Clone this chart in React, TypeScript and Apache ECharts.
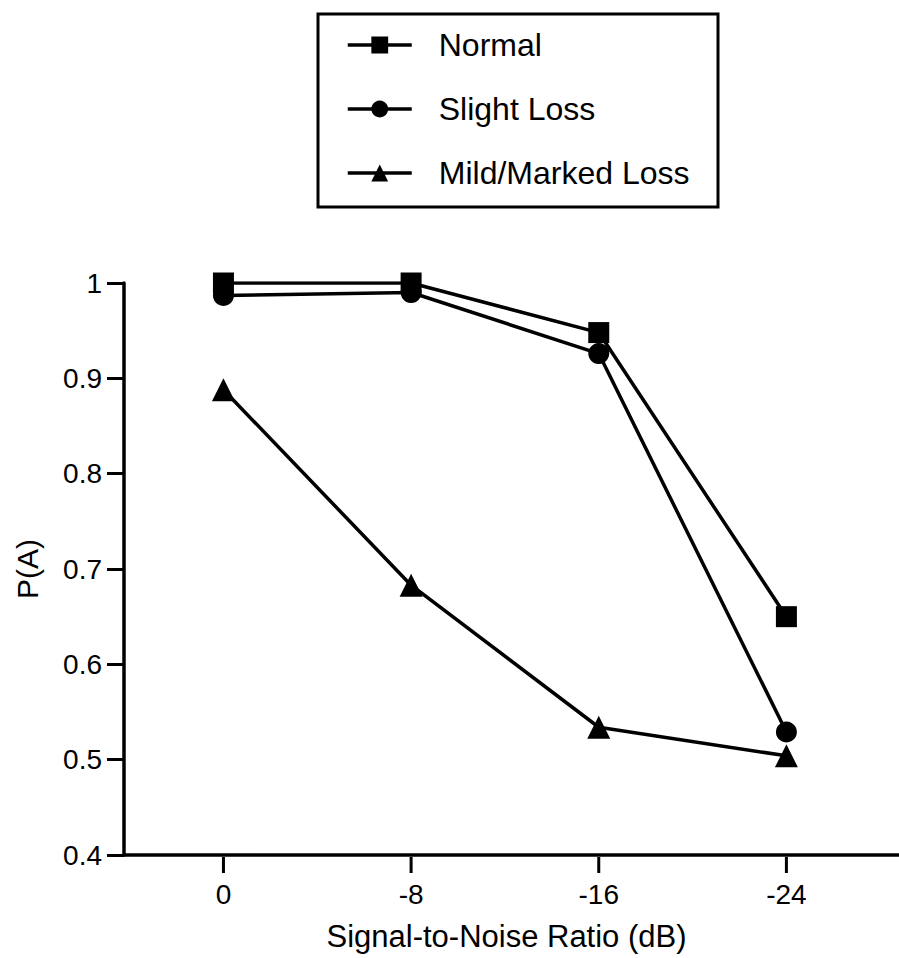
import React, { useEffect, useRef } from "react";
import * as echarts from "echarts";

const categories = ["0", "-8", "-16", "-24"];
const normal = [1.0, 1.0, 0.948, 0.65];
const slightLoss = [0.987, 0.99, 0.926, 0.529];
const mildMarkedLoss = [0.888, 0.683, 0.534, 0.504];
const yTicks = { min: 0.4, max: 1.0, interval: 0.1 };

const FONT = "'Liberation Sans', Arial, Helvetica, sans-serif";

export default function App() {
  const ref = useRef<HTMLDivElement>(null);
  useEffect(() => {
    if (!ref.current) return;
    const chart = echarts.init(ref.current, null, { renderer: "svg" });
    const mk = (name: string, data: number[], symbol: string, size: number) => ({
      name,
      type: "line",
      data: data.map((v, i) => [i, v]),
      symbol,
      symbolSize: size,
      lineStyle: { color: "#000", width: 3.5 },
      itemStyle: { color: "#000" },
      emphasis: { disabled: true },
    });
    chart.setOption({
      animation: false,
      backgroundColor: "#fff",
      textStyle: { fontFamily: FONT, color: "#000" },
      grid: { left: 124, top: 283, right: 0, bottom: 103, containLabel: false, outerBoundsMode: "none" },
      legend: {
        orient: "vertical",
        left: 341,
        top: 24,
        itemWidth: 64,
        itemHeight: 21,
        itemGap: 32,
        lineStyle: { width: 3.5, color: "#000" },
        itemStyle: { color: "#000" },
        textStyle: { fontFamily: FONT, fontSize: 32, lineHeight: 32, color: "#000", padding: [0, 0, 0, 22] },
        data: ["Normal", "Slight Loss", "Mild/Marked Loss"],
      },
      xAxis: {
        type: "value",
        min: -0.53,
        max: 3.6,
        name: "Signal-to-Noise Ratio (dB)",
        nameLocation: "middle",
        nameGap: 66,
        nameTextStyle: { fontFamily: FONT, fontSize: 31, color: "#000", padding: [0, 0, 0, -10] },
        axisLine: { onZero: false, lineStyle: { color: "#000", width: 3.5 } },
        axisTick: { show: false },
        axisLabel: { show: false },
        splitLine: { show: false },
      },
      yAxis: {
        type: "value",
        min: yTicks.min,
        max: yTicks.max,
        interval: yTicks.interval,
        name: "P(A)",
        nameLocation: "middle",
        nameGap: 82,
        nameTextStyle: { fontFamily: FONT, fontSize: 30, color: "#000" },
        axisLine: { show: true, onZero: false, lineStyle: { color: "#000", width: 3.5 } },
        axisTick: { show: true, length: 17, lineStyle: { color: "#000", width: 3 } },
        axisLabel: {
          fontFamily: FONT,
          fontSize: 28,
          color: "#000",
          margin: 22,
          formatter: (v: number) => String(Math.round(v * 10) / 10),
        },
        splitLine: { show: false },
      },
      series: [
        mk("Normal", normal, "rect", 21),
        mk("Slight Loss", slightLoss, "circle", 21),
        mk("Mild/Marked Loss", mildMarkedLoss, "triangle", 23),
      ],
    });
    const extra = categories
      .map((c, i) => {
        const p = chart.convertToPixel({ gridIndex: 0 }, [i, yTicks.min]) as number[];
        return [
          {
            type: "line",
            shape: { x1: p[0], y1: p[1] + 2, x2: p[0], y2: p[1] + 18 },
            style: { stroke: "#000", lineWidth: 3 },
            silent: true,
          },
          {
            type: "text",
            x: p[0],
            y: p[1] + 39,
            style: { text: c, fontFamily: FONT, fontSize: 28, fill: "#000", align: "center", verticalAlign: "middle" },
            silent: true,
          },
        ];
      })
      .flat();
    chart.setOption({
      graphic: [
        {
          type: "rect",
          shape: { x: 318, y: 14, width: 400, height: 193 },
          style: { fill: "none", stroke: "#000", lineWidth: 3 },
          silent: true,
        },
        ...extra,
      ],
    });
    return () => chart.dispose();
  }, []);
  return <div ref={ref} style={{ width: 899, height: 958, position: "absolute", left: 0, top: 0 }} />;
}
